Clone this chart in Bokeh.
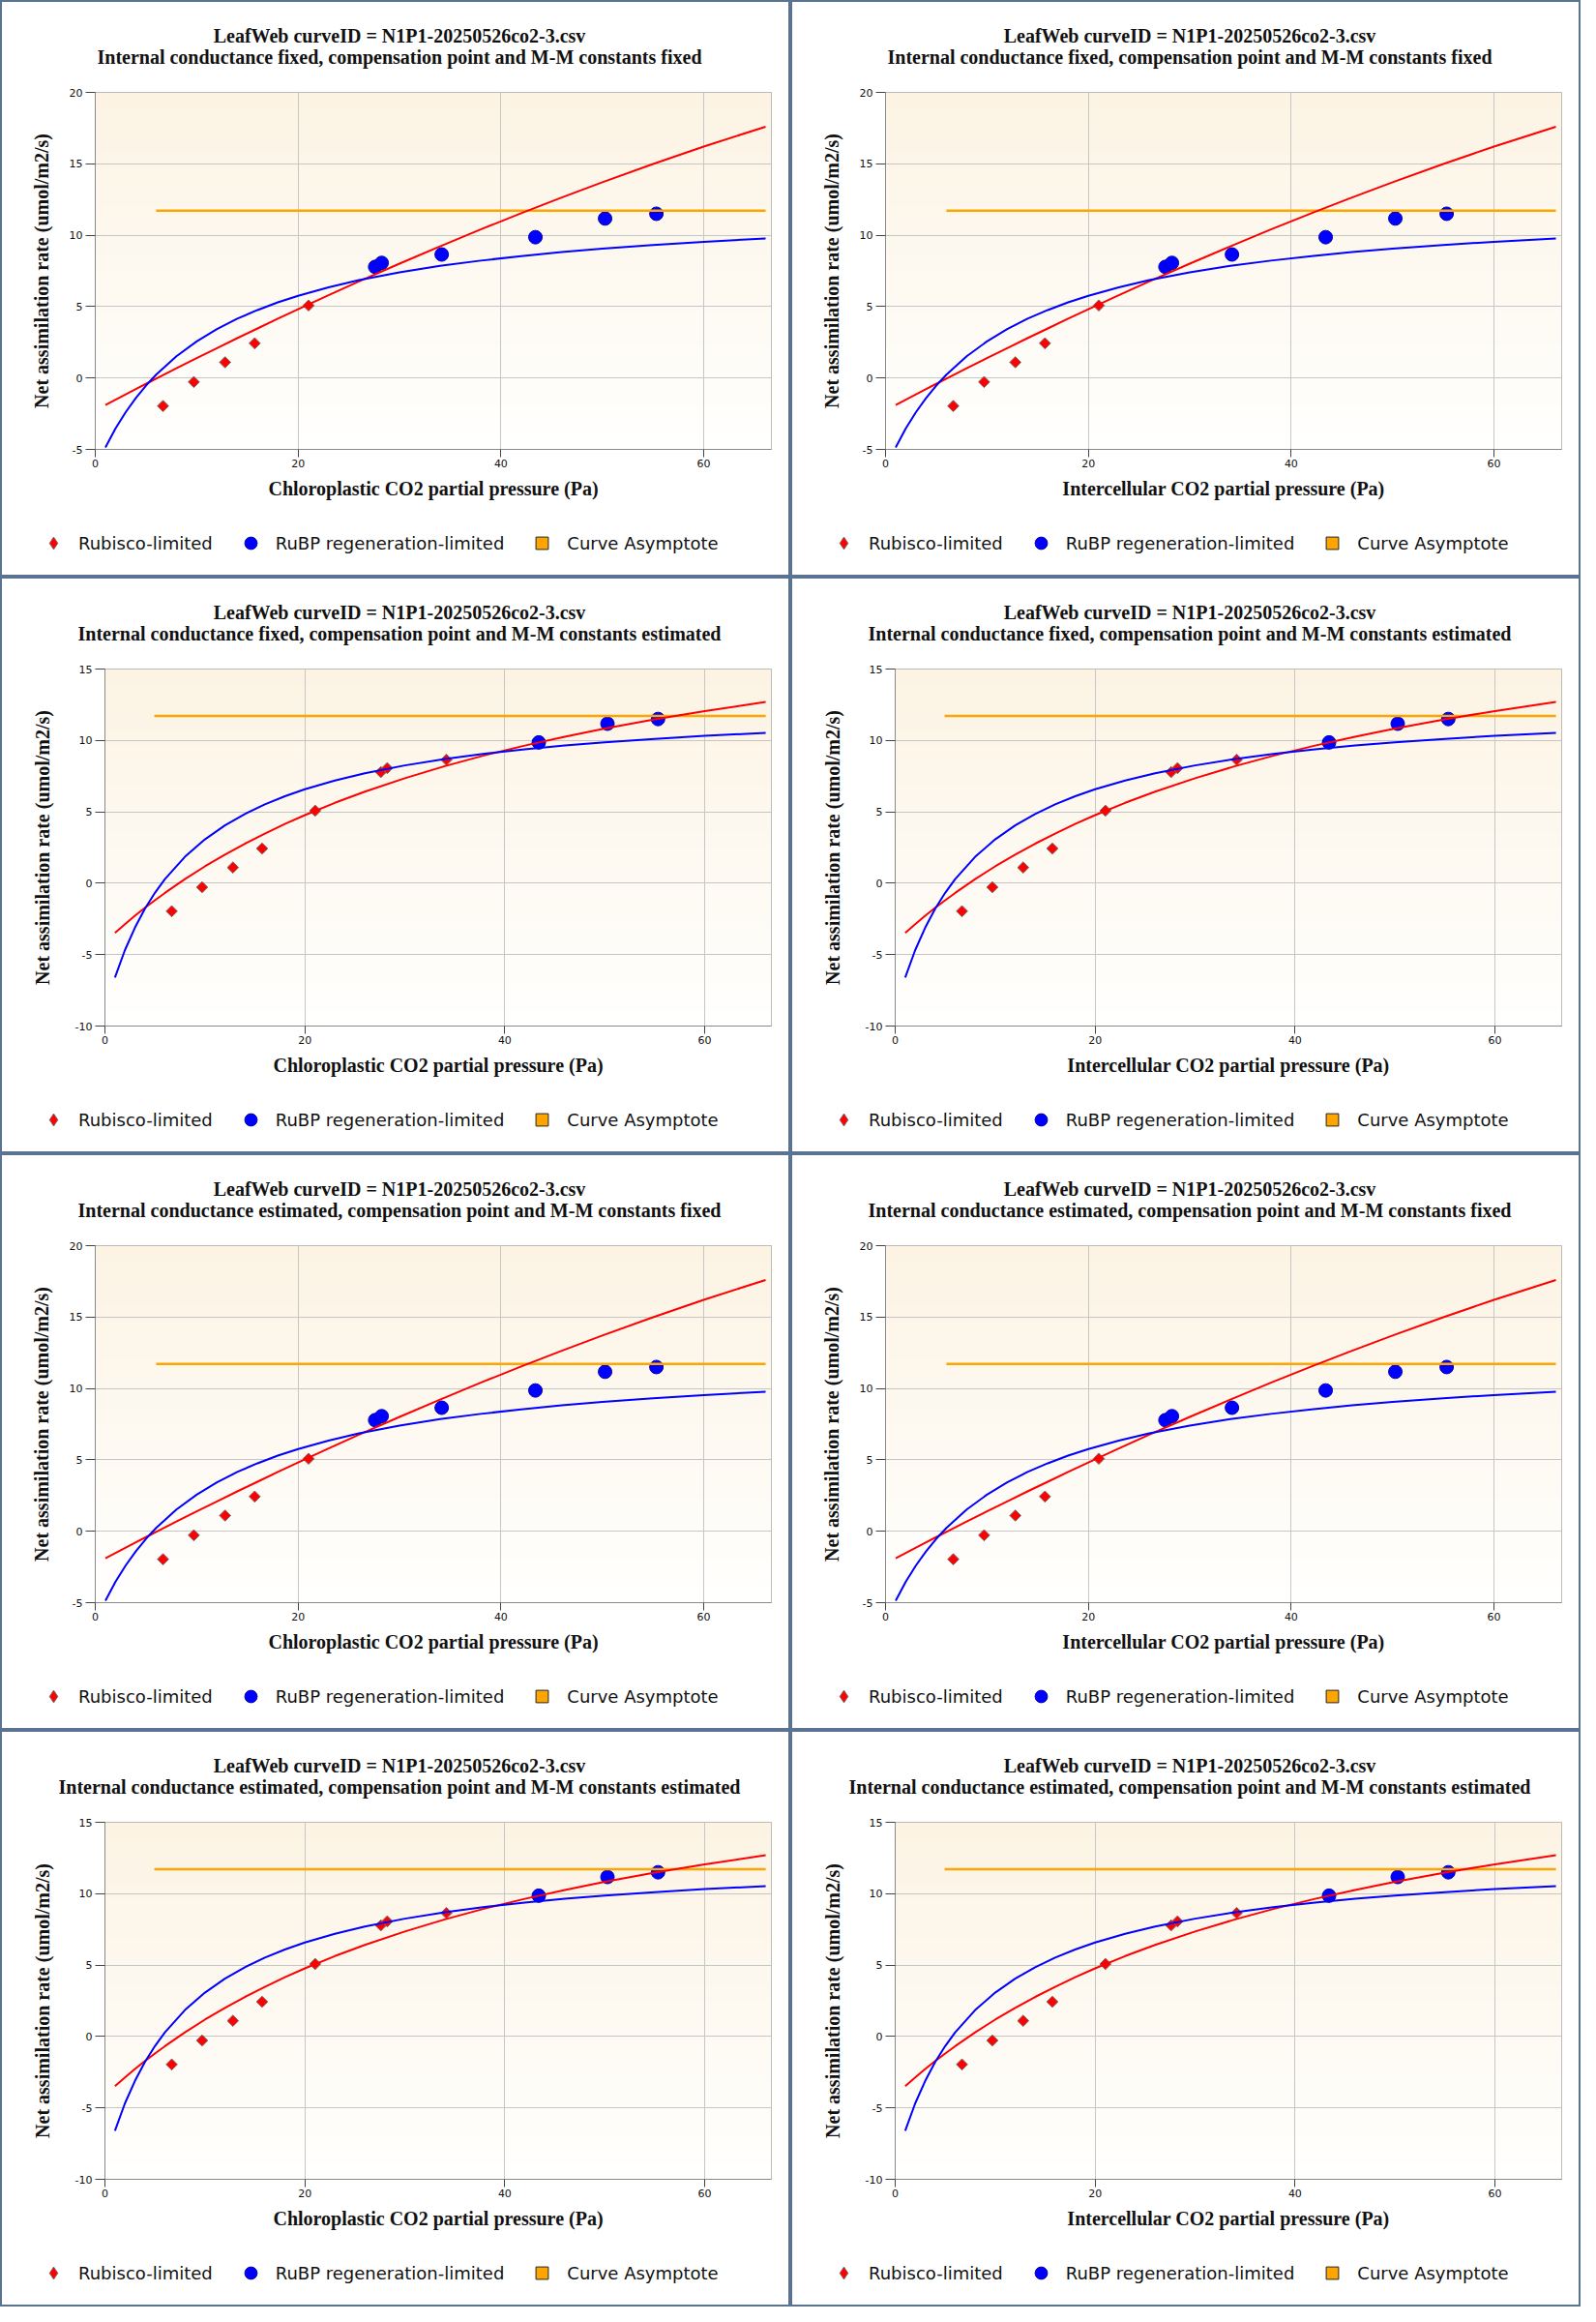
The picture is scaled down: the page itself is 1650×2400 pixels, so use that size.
import numpy as np
from bokeh.plotting import figure
from bokeh.models import Range1d, FixedTicker, Label, Legend, LegendItem, PrintfTickFormatter
from bokeh.layouts import column, row
from bokeh.embed import file_html
from bokeh.resources import INLINE

# ---------------- data ----------------
curve_title = "LeafWeb curveID = N1P1-20250526co2-3.csv"
subtitles = [
    "Internal conductance fixed, compensation point and M-M constants fixed",
    "Internal conductance fixed, compensation point and M-M constants estimated",
    "Internal conductance estimated, compensation point and M-M constants fixed",
    "Internal conductance estimated, compensation point and M-M constants estimated",
]
x_labels = ["Chloroplastic CO2 partial pressure (Pa)", "Intercellular CO2 partial pressure (Pa)"]
y_label = "Net assimilation rate (umol/m2/s)"
legend_labels = ["Rubisco-limited", "RuBP regeneration-limited", "Curve Asymptote"]

obs_co2 = [6.68, 9.72, 12.8, 15.72, 21.03, 27.6, 28.24, 34.16, 43.4, 50.27, 55.33]
obs_an = [-1.96, -0.28, 1.1, 2.43, 5.08, 7.78, 8.06, 8.65, 9.86, 11.17, 11.5]
limit_fixed = ["Rubisco", "Rubisco", "Rubisco", "Rubisco", "Rubisco",
               "RuBP", "RuBP", "RuBP", "RuBP", "RuBP", "RuBP"]
limit_est = ["Rubisco", "Rubisco", "Rubisco", "Rubisco", "Rubisco",
             "Rubisco", "Rubisco", "Rubisco", "RuBP", "RuBP", "RuBP"]

fit_co2 = [1, 2, 3, 4, 5, 6, 8, 10, 12, 14, 16, 18, 20, 23, 26, 30, 34, 38, 42, 46, 50, 55, 60, 66.1]
rubisco_fixed = [-1.89, -1.52, -1.15, -0.78, -0.41, -0.05, 0.68, 1.39, 2.09, 2.79, 3.47, 4.15,
                 4.81, 5.80, 6.76, 8.01, 9.22, 10.40, 11.54, 12.64, 13.71, 14.99, 16.21, 17.6]
rubp_fixed = [-4.87, -3.53, -2.39, -1.40, -0.53, 0.23, 1.52, 2.56, 3.42, 4.15, 4.76, 5.30,
              5.76, 6.35, 6.85, 7.40, 7.85, 8.22, 8.54, 8.82, 9.06, 9.32, 9.54, 9.77]
rubisco_est = [-3.48, -2.87, -2.28, -1.72, -1.19, -0.68, 0.29, 1.18, 2.00, 2.77, 3.48, 4.15,
               4.77, 5.63, 6.41, 7.35, 8.20, 8.96, 9.64, 10.26, 10.83, 11.48, 12.06, 12.69]
rubp_est = [-6.60, -4.68, -3.11, -1.79, -0.67, 0.29, 1.85, 3.07, 4.05, 4.85, 5.52, 6.09,
            6.58, 7.19, 7.70, 8.25, 8.70, 9.07, 9.38, 9.64, 9.87, 10.11, 10.32, 10.53]

asymptote = 11.72
asym_x_fixed = [6.0, 66.1]
asym_x_est = [4.94, 66.1]

x_max = 66.67
y_lim_fixed = (-5, 20)
y_lim_est = (-10, 15)
x_ticks = [0, 20, 40, 60]
y_ticks_fixed = [-5, 0, 5, 10, 15, 20]
y_ticks_est = [-10, -5, 0, 5, 10, 15]

# ---------------- style ----------------
W = 813
HEAD_H, MAIN_H, LEG_H = 80, 450, 62
RED, BLUE, ORANGE = "#ff0000", "#0000ff", "#ffa500"
SERIF = "Liberation Serif"
SANS = "DejaVu Sans"
GRAD_TOP = np.array([252, 243, 227])
GRAD_BOT = np.array([255, 255, 254])


def gradient_image(n=160):
    img = np.empty((n, 1), dtype=np.uint32)
    view = img.view(dtype=np.uint8).reshape((n, 1, 4))
    for i in range(n):
        t = i / (n - 1)
        c = GRAD_BOT + (GRAD_TOP - GRAD_BOT) * t
        view[i, 0, 0] = int(round(c[0]))
        view[i, 0, 1] = int(round(c[1]))
        view[i, 0, 2] = int(round(c[2]))
        view[i, 0, 3] = 255
    return img


def blank_fig(height):
    f = figure(width=W, height=height, output_backend="svg", toolbar_location=None, tools="",
               x_range=Range1d(0, W), y_range=Range1d(0, height),
               x_axis_location=None, y_axis_location=None, min_border=0)
    if "frame_align" in f.properties():
        f.frame_align = False
    f.grid.visible = False
    f.outline_line_color = None
    f.background_fill_color = "white"
    f.border_fill_color = "white"
    return f


def make_header(r):
    h = blank_fig(HEAD_H)
    for txt, base in ((curve_title, 34.7), (subtitles[r], 56.7)):
        h.add_layout(Label(x=410.5, y=HEAD_H - base, x_units="screen", y_units="screen",
                           text=txt, text_font=SERIF, text_font_style="bold", text_font_size="20px",
                           text_color="#111111", text_align="center", text_baseline="alphabetic"))
    return h


def make_legend():
    f = blank_fig(LEG_H)
    # swatch renderers kept outside the visible range; they only feed the legend glyphs
    lg_r = f.scatter(x=[-1000], y=[-1000], marker="diamond", fill_color=RED, line_color="#707070",
                     line_width=1)
    lg_b = f.scatter(x=[-1000], y=[-1000], marker="circle", fill_color=BLUE, line_color="#0000b0",
                     line_width=1)
    lg_o = f.scatter(x=[-1000], y=[-1000], marker="square", fill_color=ORANGE, line_color="#222222",
                     line_width=1)
    legend = Legend(items=[LegendItem(label=legend_labels[0], renderers=[lg_r]),
                           LegendItem(label=legend_labels[1], renderers=[lg_b]),
                           LegendItem(label=legend_labels[2], renderers=[lg_o])],
                    orientation="horizontal", location=(37, 17),
                    glyph_width=32, glyph_height=32, label_height=32, label_standoff=10,
                    spacing=23, padding=0, margin=0,
                    label_text_font=SANS, label_text_font_size="18px", label_text_color="#111111",
                    border_line_color=None, background_fill_color=None)
    f.add_layout(legend, "center")
    return f


def make_main(r, c):
    est = r in (1, 3)
    left = 106 if est else 96
    ylim = y_lim_est if est else y_lim_fixed
    yt = y_ticks_est if est else y_ticks_fixed
    limits = limit_est if est else limit_fixed
    red_y = rubisco_est if est else rubisco_fixed
    blue_y = rubp_est if est else rubp_fixed
    asym_x = asym_x_est if est else asym_x_fixed

    p = figure(width=W, height=MAIN_H, output_backend="svg", toolbar_location=None, tools="",
               x_range=Range1d(0, x_max), y_range=Range1d(ylim[0], ylim[1]),
               min_border_left=left, min_border_right=18,
               min_border_top=13, min_border_bottom=68)
    p.background_fill_color = "white"
    p.border_fill_color = "white"
    p.outline_line_color = "#a8a8a8"
    p.outline_line_width = 1

    p.image_rgba(image=[gradient_image()], x=0, y=ylim[0], dw=x_max, dh=ylim[1] - ylim[0],
                 level="image")

    for ax in (p.xaxis[0], p.yaxis[0]):
        ax.axis_line_color = "#8a8a8a"
        ax.major_tick_line_color = "#444444"
        ax.major_tick_in = 0
        ax.minor_tick_line_color = None
        ax.major_label_text_font = SANS
        ax.major_label_text_font_size = "11px"
        ax.major_label_text_color = "#111111"
        ax.axis_label_text_font = SERIF
        ax.axis_label_text_font_style = "bold"
        ax.axis_label_text_font_size = "20px"
        ax.axis_label_text_color = "#111111"
        ax.formatter = PrintfTickFormatter(format="%d")
    p.xaxis.major_tick_out = 8
    p.yaxis.major_tick_out = 10
    p.xaxis.ticker = FixedTicker(ticks=x_ticks)
    p.yaxis.ticker = FixedTicker(ticks=yt)
    p.xaxis.major_label_standoff = 2
    p.yaxis.major_label_standoff = 3
    p.xaxis.axis_label = x_labels[c]
    p.yaxis.axis_label = y_label
    p.xaxis.axis_label_standoff = 8
    p.yaxis.axis_label_standoff = 20 if est else 15

    p.xgrid.grid_line_color = "#c6c6c6"
    p.ygrid.grid_line_color = "#c6c6c6"
    p.xgrid.ticker = FixedTicker(ticks=x_ticks)
    p.ygrid.ticker = FixedTicker(ticks=yt)

    rx = [x for x, l in zip(obs_co2, limits) if l == "Rubisco"]
    ry = [y for y, l in zip(obs_an, limits) if l == "Rubisco"]
    bx = [x for x, l in zip(obs_co2, limits) if l == "RuBP"]
    by = [y for y, l in zip(obs_an, limits) if l == "RuBP"]

    p.scatter(x=bx, y=by, marker="circle", size=14, fill_color=BLUE, line_color="#0000b0",
              line_width=1)
    p.scatter(x=rx, y=ry, marker="square", size=8.2, angle=np.pi / 4, fill_color=RED,
              line_color="#707070", line_width=1)

    p.line(x=asym_x, y=[asymptote, asymptote], line_color=ORANGE, line_width=2.5)
    p.line(x=fit_co2, y=red_y, line_color=RED, line_width=2)
    p.line(x=fit_co2, y=blue_y, line_color=BLUE, line_width=2)
    return p


def make_panel(r, c):
    return column(make_header(r), make_main(r, c), make_legend(), spacing=0,
                  styles={"background-color": "white"})


rows = []
for r in range(4):
    rows.append(row(make_panel(r, 0), make_panel(r, 1), spacing=4))
page = column(*rows, spacing=4, styles={"background-color": "#5b7393", "padding": "2px"})

open("out.html", "w").write(file_html(page, INLINE))
